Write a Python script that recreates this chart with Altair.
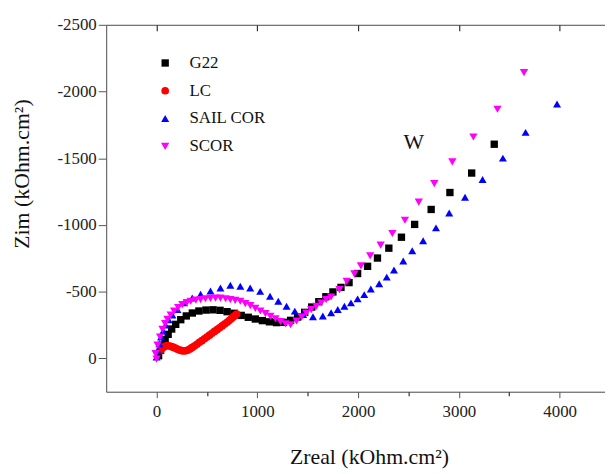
import altair as alt
import pandas as pd

SERIES = ["G22", "LC", "SAIL COR", "SCOR"]
COLORS = ["#000000", "#ff0000", "#0000ff", "#ff00ff"]
SHAPES = ["square", "circle", "triangle-up", "triangle-down"]
SIZES = [55, 70, 95, 95]

G22_X = [20, 40, 60, 85, 115, 150, 190, 240, 295, 355, 420, 490, 560, 630, 700, 770, 840, 910, 980, 1050,
         1120, 1190, 1260, 1330, 1400, 1470, 1540, 1610, 1680, 1750, 1830, 1910, 1995, 2094, 2192, 2305,
         2430, 2561, 2725, 2911, 3127, 3351]
G22_Y = [-20, -60, -100, -140, -180, -220, -255, -290, -318, -340, -355, -362, -364, -360, -350, -338, -322,
         -308, -295, -283, -274, -268, -270, -285, -310, -345, -385, -425, -462, -498, -532, -568, -636, -690,
         -752, -826, -908, -1004, -1116, -1243, -1389, -1605]

LC_X = [40, 55, 70, 90, 110, 130, 150, 170, 190, 210, 230, 250, 270, 290, 310, 330, 350, 375, 400, 425, 450,
        475, 500, 525, 550, 575, 600, 625, 650, 675, 700, 720, 740, 760, 780, 795]
LC_Y = [-60, -75, -85, -92, -95, -93, -88, -82, -75, -68, -62, -58, -56, -57, -62, -70, -80, -92, -106, -120,
        -133, -147, -160, -174, -188, -202, -215, -229, -243, -257, -271, -284, -297, -310, -322, -332]

SAIL_X = [0, 10, 27, 45, 65, 90, 120, 157, 207, 273, 354, 437, 535, 634, 732, 831, 929, 1028, 1126, 1208,
          1290, 1372, 1454, 1552, 1650, 1732, 1798, 1864, 1929, 1995, 2061, 2126, 2209, 2284, 2356, 2448,
          2537, 2645, 2773, 2904, 3061, 3235, 3437, 3662, 3974]
SAIL_Y = [-10, -60, -110, -160, -205, -250, -290, -325, -366, -416, -453, -480, -505, -527, -548, -540, -527,
          -502, -465, -428, -391, -354, -329, -312, -317, -342, -366, -391, -416, -446, -478, -520, -559, -609,
          -663, -730, -807, -881, -978, -1089, -1208, -1340, -1501, -1694, -1907]

SCOR_X = [0, -10, 10, 35, 59, 85, 108, 140, 174, 215, 256, 300, 339, 390, 437, 485, 535, 585, 634, 685, 732,
          780, 831, 880, 930, 980, 1030, 1080, 1130, 1180, 1230, 1280, 1330, 1388, 1440, 1486, 1535, 1585,
          1635, 1683, 1732, 1815, 1887, 1963, 2028, 2120, 2224, 2340, 2465, 2602, 2756, 2935, 3144, 3383, 3646]
SCOR_Y = [5, -35, -100, -160, -218, -260, -292, -325, -354, -380, -403, -418, -428, -436, -441, -447, -450,
          -452, -451, -447, -441, -435, -428, -410, -395, -375, -355, -335, -315, -297, -275, -258, -252, -280,
          -310, -340, -365, -390, -415, -440, -460, -515, -577, -634, -693, -768, -849, -936, -1035, -1171,
          -1310, -1473, -1659, -1867, -2141]

W_X = [2553]
W_Y = [-1624]
W_TEXT = ["W"]

X_TICKS = [0, 1000, 2000, 3000, 4000]
X_MINOR = [500, 1500, 2500, 3500]
Y_TICKS = [-2500, -2000, -1500, -1000, -500, 0]

rows = []
for name, xs, ys in [("G22", G22_X, G22_Y), ("LC", LC_X, LC_Y),
                     ("SAIL COR", SAIL_X, SAIL_Y), ("SCOR", SCOR_X, SCOR_Y)]:
    for x, y in zip(xs, ys):
        rows.append({"Zreal": x, "Zim": y, "series": name})
df = pd.DataFrame(rows)
wdf = pd.DataFrame({"Zreal": W_X, "Zim": W_Y, "label": W_TEXT})

FONT = "Liberation Serif"
AX = "#555555"
xscale = alt.Scale(domain=[-500, 4450], nice=False, zero=False)
yscale = alt.Scale(domain=[-2500, 250], nice=False, zero=False, reverse=True)

yaxis = alt.Axis(values=Y_TICKS, labelExpr="toString(datum.value)", grid=False, tickSize=8,
                 labelPadding=2, labelFont=FONT, labelFontSize=17, labelColor="#222222",
                 title="Zim (kOhm.cm²)", titleFont=FONT, titleFontSize=22, titleFontWeight="normal",
                 titleColor="#111111", titleX=-73, titleY=150, titleAngle=270,
                 titleBaseline="bottom", domainColor=AX, tickColor=AX)
Y = alt.Y("Zim:Q", scale=yscale, axis=yaxis)

legend = alt.Legend(title=None, orient="none", legendX=51, legendY=30, labelFont=FONT, labelFontSize=17,
                    labelColor="#111111", labelOffset=16, rowPadding=10, symbolStrokeWidth=0)

points = alt.Chart(df).mark_point(filled=True, opacity=1, strokeWidth=0).encode(
    x=alt.X("Zreal:Q", scale=xscale,
            axis=alt.Axis(orient="bottom", values=X_TICKS, format="d", grid=False, tickSize=6,
                          labelPadding=6, labelFont=FONT, labelFontSize=17, labelColor="#222222",
                          title="Zreal (kOhm.cm²)", titleFont=FONT, titleFontSize=22, titleFontWeight="normal",
                          titleColor="#111111", titleX=265, titleY=55, titleBaseline="top",
                          domainColor=AX, tickColor=AX)),
    y=Y,
    color=alt.Color("series:N", scale=alt.Scale(domain=SERIES, range=COLORS), legend=legend),
    shape=alt.Shape("series:N", scale=alt.Scale(domain=SERIES, range=SHAPES), legend=legend),
    size=alt.Size("series:N", scale=alt.Scale(domain=SERIES, range=SIZES), legend=legend),
)

wtext = alt.Chart(wdf).mark_text(font=FONT, fontSize=22, color="#111111", align="center",
                                 baseline="middle").encode(
    x=alt.X("Zreal:Q", scale=xscale,
            axis=alt.Axis(orient="top", domain=True, ticks=False, labels=False, title=None, grid=False,
                          domainColor=AX)),
    y=Y,
    text="label:N",
)

top_ticks = alt.Chart(wdf).mark_text(opacity=0).encode(
    x=alt.X("Zreal:Q", scale=xscale,
            axis=alt.Axis(orient="top", values=X_TICKS, offset=-6, domain=False, ticks=True, tickSize=6,
                          tickWidth=1.2, labels=False, title=None, grid=False, tickColor="#333333")),
    y=Y,
    text="label:N",
)

minor = alt.Chart(wdf).mark_text(opacity=0).encode(
    x=alt.X("Zreal:Q", scale=xscale,
            axis=alt.Axis(orient="bottom", values=X_MINOR, domain=False, ticks=True, tickSize=4,
                          tickWidth=1.2, labels=False, title=None, grid=False, tickColor="#333333")),
    y=Y,
    text="label:N",
)

chart = alt.layer(points, wtext, top_ticks, minor).resolve_axis(x="independent").properties(
    width=503, height=370,
    autosize=alt.AutoSizeParams(type="none"),
    padding={"left": 99, "top": 15, "right": 0, "bottom": 80},
).configure_view(stroke=None).configure(background="white")

chart.save("out.html", embed_options={"renderer": "svg", "actions": False})
